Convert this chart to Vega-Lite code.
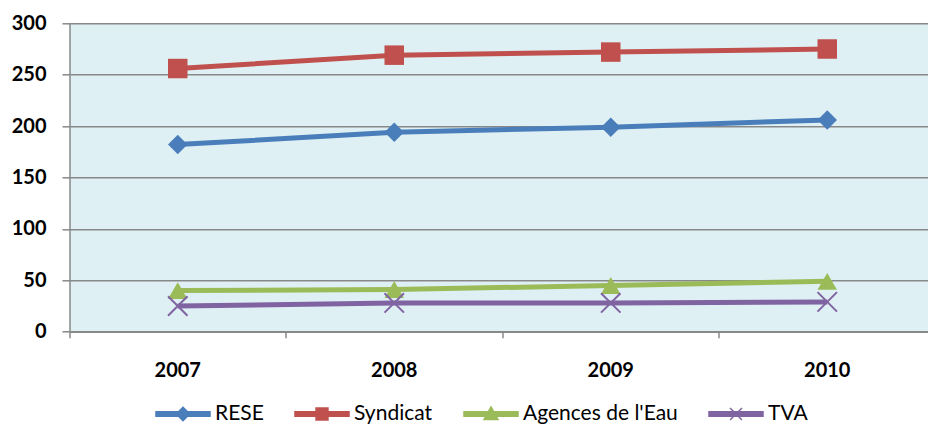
{
  "$schema": "https://vega.github.io/schema/vega-lite/v6.json",
  "width": 858.5,
  "height": 308.4,
  "autosize": {"type": "none"},
  "padding": {"left": 69.5, "top": 23.3, "right": 0, "bottom": 93.3},
  "background": "white",
  "config": {"view": {"fill": "#dff0f4", "stroke": null}, "font": "Lato"},
  "data": {
    "values": [
      {"year": "2007", "series": "RESE", "value": 182},
      {"year": "2008", "series": "RESE", "value": 194},
      {"year": "2009", "series": "RESE", "value": 199},
      {"year": "2010", "series": "RESE", "value": 206},
      {"year": "2007", "series": "Syndicat", "value": 256},
      {"year": "2008", "series": "Syndicat", "value": 269},
      {"year": "2009", "series": "Syndicat", "value": 272},
      {"year": "2010", "series": "Syndicat", "value": 275},
      {"year": "2007", "series": "Agences de l'Eau", "value": 40},
      {"year": "2008", "series": "Agences de l'Eau", "value": 41},
      {"year": "2009", "series": "Agences de l'Eau", "value": 45},
      {"year": "2010", "series": "Agences de l'Eau", "value": 49},
      {"year": "2007", "series": "TVA", "value": 25},
      {"year": "2008", "series": "TVA", "value": 28},
      {"year": "2009", "series": "TVA", "value": 28},
      {"year": "2010", "series": "TVA", "value": 29}
    ]
  },
  "encoding": {
    "x": {
      "field": "year",
      "type": "ordinal",
      "scale": {"type": "band", "range": [0, 866], "paddingInner": 0, "paddingOuter": 0},
      "axis": {
        "title": null,
        "bandPosition": 0,
        "ticks": true,
        "tickSize": 6,
        "tickColor": "#888888",
        "tickWidth": 1.5,
        "domainColor": "#888888",
        "domainWidth": 1.5,
        "grid": false,
        "labelFont": "Lato",
        "labelFontWeight": "bold",
        "labelFontSize": 20,
        "labelColor": "#000000",
        "labelPadding": 23,
        "labelAngle": 0
      }
    },
    "y": {
      "field": "value",
      "type": "quantitative",
      "scale": {"domain": [0, 300], "nice": false},
      "axis": {
        "title": null,
        "values": [0, 50, 100, 150, 200, 250, 300],
        "grid": true,
        "gridColor": "#888888",
        "gridWidth": 1.5,
        "tickSize": 7.5,
        "tickColor": "#888888",
        "tickWidth": 1.5,
        "domainColor": "#888888",
        "domainWidth": 1.5,
        "labelFont": "Lato",
        "labelFontWeight": "bold",
        "labelFontSize": 20,
        "labelColor": "#000000",
        "labelPadding": 16
      }
    }
  },
  "layer": [
    {
      "mark": {"type": "line", "strokeWidth": 5},
      "encoding": {
        "color": {
          "field": "series",
          "type": "nominal",
          "sort": ["RESE", "Syndicat", "Agences de l'Eau", "TVA"],
          "scale": {
            "domain": ["RESE", "Syndicat", "Agences de l'Eau", "TVA"],
            "range": ["#4a7ebb", "#c0504d", "#9bbb59", "#8064a2"]
          },
          "legend": {
            "orient": "none",
            "legendX": 85.5,
            "legendY": 362.7,
            "direction": "horizontal",
            "title": null,
            "symbolSize": 2916,
            "symbolType": "square",
            "symbolStrokeWidth": 1.5,
            "labelFont": "Lato",
            "labelFontSize": 21,
            "labelColor": "#000000",
            "columnPadding": 28,
            "labelOffset": 4,
            "padding": 0,
            "encode": {
              "symbols": {
                "update": {
                  "size": {"value": 2916},
                  "strokeWidth": {"value": 1.5},
                  "shape": {"signal": "datum.value === 'RESE' ? 'M-1,-0.085H1V0.085H-1Z M0,-0.25L0.25,0L0,0.25L-0.25,0Z' : datum.value === 'Syndicat' ? 'M-1,-0.085H1V0.085H-1Z M-0.22,-0.22H0.22V0.22H-0.22Z' : datum.value === 'TVA' ? 'M-1,-0.085H1V0.085H-1Z M-0.22,-0.22L0.22,0.22 M-0.22,0.22L0.22,-0.22' : 'M-1,-0.085H1V0.085H-1Z M0,-0.26L0.26,0.2L-0.26,0.2Z'"},
                  "fill": {"signal": "scale('color', datum.value)"},
                  "stroke": {"signal": "datum.value === 'TVA' ? scale('color', datum.value) : 'transparent'"},
                  "opacity": {"value": 1}
                }
              }
            }
          }
        }
      }
    },
    {
      "transform": [{"filter": "datum.series !== 'TVA'"}],
      "mark": {"type": "point", "filled": true, "opacity": 1, "size": 380},
      "encoding": {
        "color": {"field": "series", "type": "nominal", "legend": null},
        "shape": {
          "field": "series",
          "type": "nominal",
          "scale": {"domain": ["RESE", "Syndicat", "Agences de l'Eau"], "range": ["diamond", "square", "triangle-up"]},
          "legend": null
        }
      }
    },
    {
      "transform": [{"filter": "datum.series === 'TVA'"}],
      "mark": {"type": "point", "filled": false, "opacity": 1, "size": 380, "strokeWidth": 2, "shape": "M-1,-1L1,1M-1,1L1,-1"},
      "encoding": {
        "color": {"field": "series", "type": "nominal", "legend": null}
      }
    }
  ]
}
